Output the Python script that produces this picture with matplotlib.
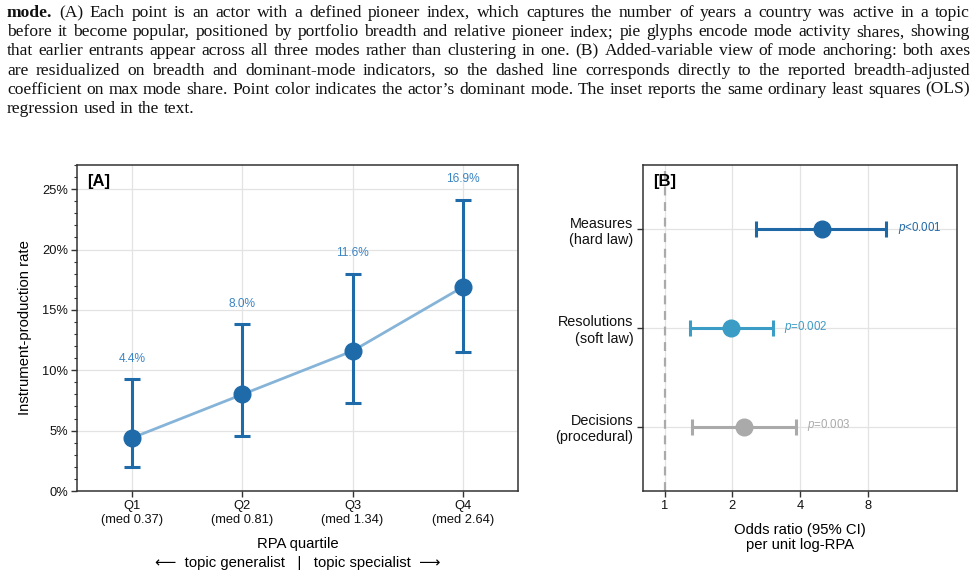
import matplotlib
matplotlib.use('Agg')
import matplotlib.pyplot as plt
from matplotlib.ticker import FuncFormatter, MultipleLocator, FixedLocator, NullLocator

plt.rcParams['font.family'] = ['Liberation Sans', 'DejaVu Sans']
plt.rcParams['mathtext.fontset'] = 'custom'
plt.rcParams['mathtext.it'] = 'Liberation Sans:italic'
plt.rcParams['mathtext.rm'] = 'Liberation Sans'

# ---------------- data ----------------
quartiles = ['Q1', 'Q2', 'Q3', 'Q4']
medians = [0.37, 0.81, 1.34, 2.64]
rate = [4.4, 8.0, 11.6, 16.9]
rate_lo = [2.0, 4.55, 7.25, 11.5]
rate_hi = [9.25, 13.8, 18.0, 24.1]

modes = ['Measures\n(hard law)', 'Resolutions\n(soft law)', 'Decisions\n(procedural)']
odds = [5.0, 1.98, 2.25]
odds_lo = [2.54, 1.30, 1.32]
odds_hi = [9.7, 3.04, 3.82]
pvals = ['<0.001', '=0.002', '=0.003']
mode_colors = ['#1f68a6', '#3b9cc5', '#aaaaaa']

caption_lines = [
    "(A) Each point is an actor with a defined pioneer index, which captures the number of years a country was active in a topic",
    "before it become popular, positioned by portfolio breadth and relative pioneer index; pie glyphs encode mode activity shares, showing",
    "that earlier entrants appear across all three modes rather than clustering in one. (B) Added-variable view of mode anchoring: both axes",
    "are residualized on breadth and dominant-mode indicators, so the dashed line corresponds directly to the reported breadth-adjusted",
    "coefficient on max mode share. Point color indicates the actor\u2019s dominant mode. The inset reports the same ordinary least squares (OLS)",
    "regression used in the text.",
]
caption_lead = "mode."

W, H = 977, 577
fig = plt.figure(figsize=(W / 100, H / 100), dpi=100)

SPINE = '#333333'
GRID = '#e3e3e3'

def px_axes(l, t, r, b):
    return fig.add_axes([l / W, 1 - b / H, (r - l) / W, (b - t) / H])

# ---------------- panel A ----------------
axA = px_axes(77, 165, 518, 491)
x = list(range(len(quartiles)))
point_c = '#1f6aa8'
axA.plot(x, rate, color='#86b4d8', lw=2.0, zorder=2)
yerr = [[r - lo for r, lo in zip(rate, rate_lo)], [hi - r for r, hi in zip(rate, rate_hi)]]
axA.errorbar(x, rate, yerr=yerr, fmt='none', ecolor=point_c, elinewidth=2.2,
             capsize=5.5, capthick=2.2, zorder=3)
axA.plot(x, rate, 'o', color=point_c, ms=12, zorder=4)
for xi, r, hi in zip(x, rate, rate_hi):
    axA.text(xi, hi + 1.7, f"{r:.1f}%", ha='center', va='center', fontsize=8.6, color='#3b84c4')
axA.set_xlim(-0.5, 3.5)
axA.set_ylim(0, 27)
axA.yaxis.set_major_locator(MultipleLocator(5))
axA.yaxis.set_minor_locator(MultipleLocator(1))
axA.yaxis.set_major_formatter(FuncFormatter(lambda v, p: f"{v:.0f}%"))
axA.set_xticks(x)
axA.set_xticklabels([f"{q}\n(med {m:.2f})" for q, m in zip(quartiles, medians)])
axA.grid(True, color=GRID, lw=0.9, zorder=0)
axA.set_axisbelow(True)
axA.set_ylabel('Instrument-production rate', fontsize=10.7)
axA.yaxis.set_label_coords(-0.102, 0.5)
axA.set_xlabel('RPA quartile\n\u27f5  topic generalist   |   topic specialist  \u27f6', fontsize=10.7,
               linespacing=1.4)
axA.xaxis.set_label_coords(0.5, -0.142)
axA.text(0.023, 0.95, '[A]', transform=axA.transAxes, fontsize=12, fontweight='bold',
         ha='left', va='center')

# ---------------- panel B ----------------
axB = px_axes(643, 165, 957, 491)
ypos = [2, 1, 0]
axB.axvline(1, color='#aaaaaa', lw=1.6, ls=(0, (4, 3)), zorder=1)
for yi, o, lo, hi, c, p in zip(ypos, odds, odds_lo, odds_hi, mode_colors, pvals):
    axB.errorbar([o], [yi], xerr=[[o - lo], [hi - o]], fmt='none', ecolor=c,
                 elinewidth=2.2, capsize=6, capthick=2.2, zorder=3)
    axB.plot([o], [yi], 'o', color=c, ms=12, zorder=4)
    axB.annotate(f"$p${p}", (hi, yi), xytext=(8, 1), textcoords='offset points',
                 ha='left', va='center', fontsize=8.3, color=c)
axB.set_xscale('log', base=2)
axB.set_xlim(0.8, 20)
axB.set_ylim(-0.65, 2.65)
axB.xaxis.set_major_locator(FixedLocator([1, 2, 4, 8]))
axB.xaxis.set_minor_locator(NullLocator())
axB.xaxis.set_major_formatter(FuncFormatter(lambda v, p: f"{v:g}"))
axB.set_yticks(ypos)
axB.set_yticklabels(modes, fontsize=10.4)
axB.grid(True, color=GRID, lw=0.9, zorder=0)
axB.set_axisbelow(True)
axB.set_xlabel('Odds ratio (95% CI)\nper unit log-RPA', fontsize=10.7, linespacing=1.1)
axB.xaxis.set_label_coords(0.5, -0.098)
axB.text(0.032, 0.95, '[B]', transform=axB.transAxes, fontsize=12, fontweight='bold',
         ha='left', va='center')

for ax in (axA, axB):
    for s in ax.spines.values():
        s.set_color(SPINE)
        s.set_linewidth(1.1)
    ax.tick_params(which='major', length=4, width=1.0, color=SPINE, labelsize=9.3,
                   labelcolor='#111111', pad=2.5)
    ax.tick_params(which='minor', length=2.2, width=0.8, color=SPINE)
axB.tick_params(axis='y', labelsize=10.4, pad=3)

# ---------------- caption (justified) ----------------
cap_font = ['Liberation Serif', 'DejaVu Serif']
x0, x1 = 7, 970
baselines = [17, 36.2, 55.4, 74.6, 93.8, 113.0]
renderer = fig.canvas.get_renderer()

def measure(s, fs, wt='normal'):
    t = fig.text(0, 0, s, fontsize=fs, family=cap_font, fontweight=wt)
    w = t.get_window_extent(renderer).width
    t.remove()
    return w

# choose the size so the widest justified line fits with natural spacing
test_fs = 10.0
nat = []
for li, line in enumerate(caption_lines[:-1]):
    s = (caption_lead + ' ' + line) if li == 0 else line
    nat.append(measure(s, test_fs))
cap_fs = test_fs * (x1 - x0) / max(nat) * 0.995

sw = measure('a b', cap_fs) - measure('ab', cap_fs)
for li, (line, yb) in enumerate(zip(caption_lines, baselines)):
    words = [(w, 'normal') for w in line.split(' ')]
    if li == 0:
        words = [(caption_lead, 'bold')] + words
    objs = []
    for w, wt in words:
        t = fig.text(0, 1 - yb / H, w, fontsize=cap_fs, family=cap_font, fontweight=wt,
                     ha='left', va='baseline', color='#111111')
        objs.append(t)
    widths = [t.get_window_extent(renderer).width for t in objs]
    if li < len(caption_lines) - 1:
        gap = (x1 - x0 - sum(widths)) / (len(objs) - 1)
    else:
        gap = sw
    cx = x0
    for t, wd in zip(objs, widths):
        t.set_x(cx / W)
        cx += wd + gap

fig.savefig('out.png', dpi=100)
